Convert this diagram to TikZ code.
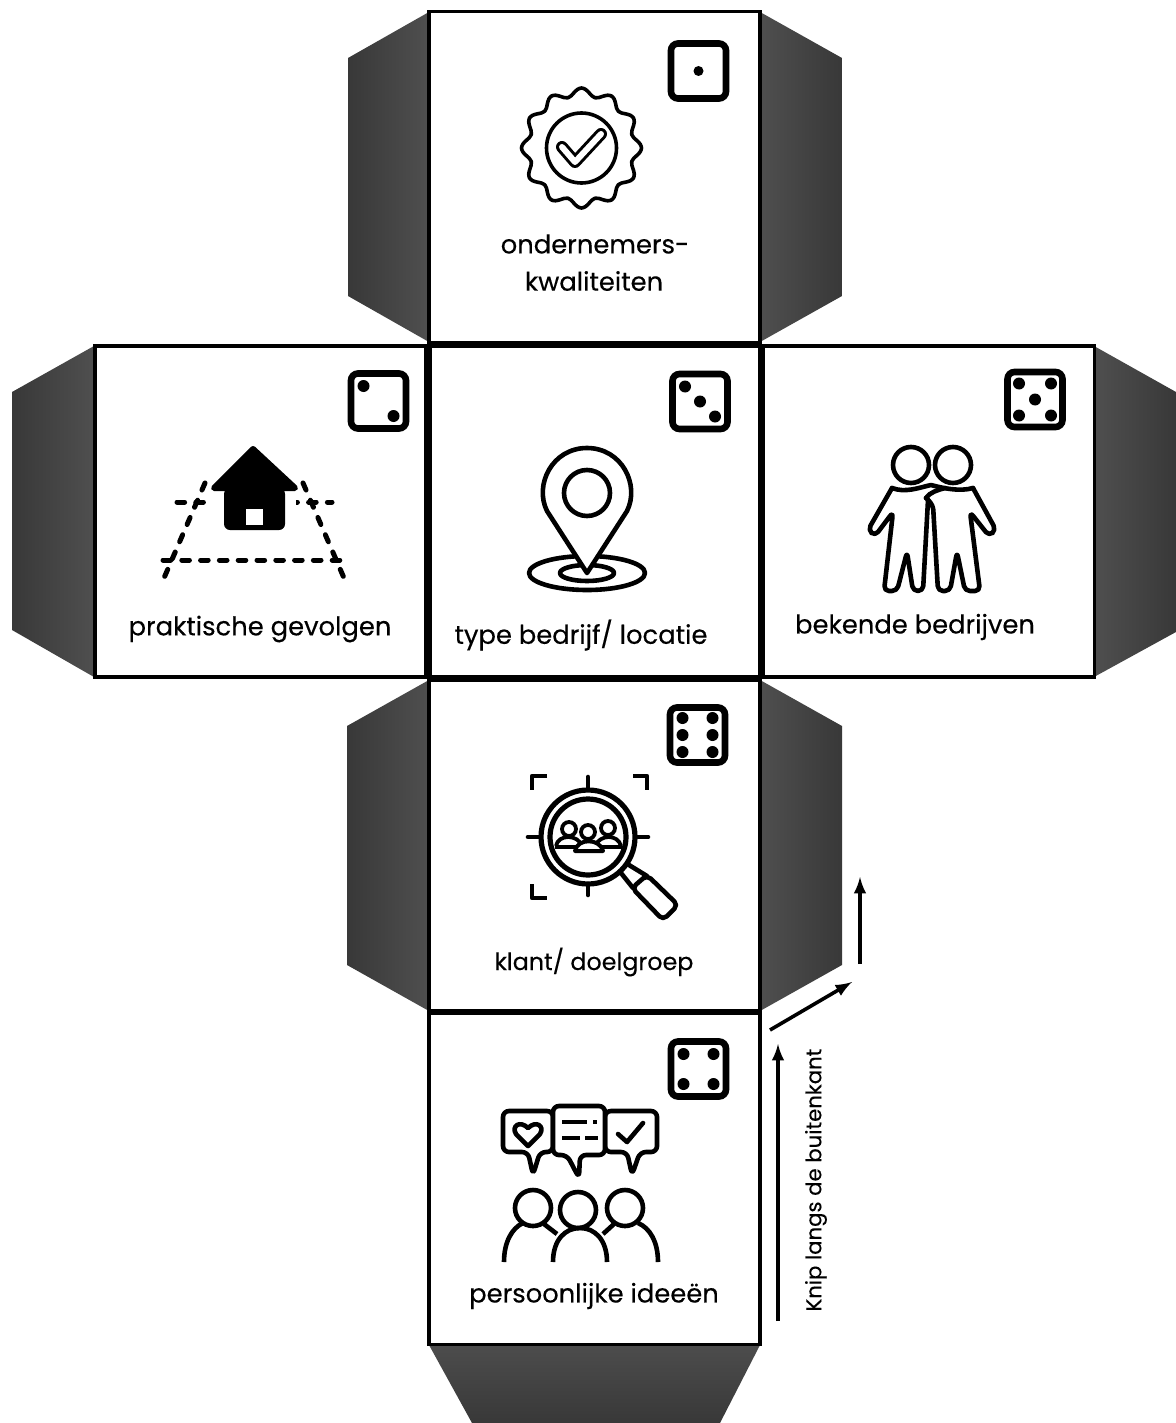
\documentclass[tikz,border=0pt]{standalone}
\usepackage{fontspec}
\setmainfont[FakeBold=0.3]{Poppins}
\tikzset{
  x=0.5pt, y=-0.5pt,
  facebox/.style={draw, fill=white, line width=1.6pt, minimum width=165.5pt, minimum height=165.5pt, inner sep=0pt},
  diebox/.style={draw, line width=3.3pt, rounded corners=3.5pt, minimum size=27.5pt, inner sep=0pt},
  pip/.style={fill=black},
  flapl/.style={left color=black!78, right color=black!69},
  flapr/.style={left color=black!69, right color=black!78},
  label/.style={inner sep=0pt, font=\fontsize{12.9}{16}\selectfont},
  icon/.style={line width=2.3pt, line join=round, line cap=round},
  thinicon/.style={line width=1.8pt, line join=round, line cap=round},
  cutline/.style={line width=2.5pt, line cap=round, dash pattern=on 3.8pt off 5.6pt},
  cutarrow/.style={->, >=latex, line width=1.8pt}
}
\begin{document}
\begin{tikzpicture}
  \useasboundingbox (0,0) rectangle (1176,1423);

  % flaps
  \shade[flapl] (429,12) -- (348,58) -- (348,296) -- (429,342) -- cycle;
  \shade[flapr] (760,12) -- (842,58) -- (842,296) -- (760,342) -- cycle;
  \shade[flapl] (94,346) -- (12,392) -- (12,630) -- (94,677) -- cycle;
  \shade[flapr] (1094,346) -- (1176,392) -- (1176,632) -- (1094,677) -- cycle;
  \shade[flapl] (429,680) -- (347,726) -- (347,965) -- (429,1011) -- cycle;
  \shade[flapr] (760,680) -- (842,726) -- (842,965) -- (760,1011) -- cycle;
  \shade[top color=black!70, bottom color=black!78] (429,1345) -- (760,1345) -- (720,1423) -- (472,1423) -- cycle;

  % faces
  \node[facebox] (top) at (594.5,177) {};
  \node[facebox] (left) at (260.5,511.5) {};
  \node[facebox] (right) at (929,511.5) {};
  \node[facebox] (below) at (594.5,845.5) {};
  \node[facebox] (bottom) at (594.5,1179) {};
  \node[facebox, line width=2.4pt] (mid) at (595,511.5) {};

  % dice
  \node[diebox] (dieone) at (698.5,71) {};
  \node[diebox] (dietwo) at (378.5,401) {};
  \node[diebox] (diethree) at (700,401.5) {};
  \node[diebox] (diefive) at (1035,399.5) {};
  \node[diebox] (diesix) at (697.5,735) {};
  \node[diebox] (diefour) at (698.5,1069) {};
  \fill[pip] (dieone) circle (5);
  \foreach \a/\b in {-15/15,15/-15}
    \fill[pip] ([xshift=\a*0.5pt,yshift=\b*0.5pt]dietwo.center) circle (6);
  \foreach \a/\b in {-15/15,0/0,15/-15}
    \fill[pip] ([xshift=\a*0.5pt,yshift=\b*0.5pt]diethree.center) circle (6);
  \foreach \a/\b in {-16/16,16/16,0/0,-16/-16,16/-16}
    \fill[pip] ([xshift=\a*0.5pt,yshift=\b*0.5pt]diefive.center) circle (6);
  \foreach \a/\b in {-15/17,15/17,-15/0,15/0,-15/-17,15/-17}
    \fill[pip] ([xshift=\a*0.5pt,yshift=\b*0.5pt]diesix.center) circle (6);
  \foreach \a/\b in {-15/15,15/15,-15/-15,15/-15}
    \fill[pip] ([xshift=\a*0.5pt,yshift=\b*0.5pt]diefour.center) circle (6);

  % badge
  \draw[thinicon] plot[smooth cycle, samples=96, domain=0:356.25]
    ({581.5+(56+4*cos(12*\x))*cos(\x)},{148+(56+4*cos(12*\x))*sin(\x)});
  \draw[thinicon] (581.5,148) circle (35);
  \draw[line width=6pt, line join=round, line cap=round] (562,147) -- (575,162) -- (601,134);
  \draw[line width=3pt, white, line join=round, line cap=round] (562,147) -- (575,162) -- (601,134);

  % house with plot lines
  \draw[cutline] (177,502) -- (332,502);
  \draw[cutline] (163,560) -- (347,560);
  \draw[cutline] (205,483) -- (164,578);
  \draw[cutline] (303,483) -- (344,578);
  \fill[white] (211,491) rectangle (296,535);
  \fill[line join=round] [draw, line width=3pt] (253,449) -- (295,488) -- (214,488) -- cycle;
  \fill[rounded corners=3pt] (224,488) rectangle (285,530);
  \fill[white] (246,509) rectangle (263,525);

  % pin
  \draw[icon] (587,573) ellipse (58 and 17);
  \draw[icon] (587,573) ellipse (27 and 8);
  \draw[icon, fill=white] (587,573) -- (547,511) .. controls (534,485) and (552,448) .. (587,448)
    .. controls (622,448) and (640,485) .. (627,511) -- cycle;
  \draw[icon] (587,493) circle (23);

  % friends
  \draw[icon] (911,465) circle (18) (953,465) circle (18);
  \draw[icon, rounded corners=2.5pt] (892,488) -- (868,530) -- (875,536) -- (893,512) -- (884,591)
    -- (897,591) -- (907,552) -- (913,591) -- (923,591) -- (928,500);
  \draw[icon, rounded corners=2.5pt] (973,488) -- (996,530) -- (989,536) -- (970,512) -- (980,591)
    -- (965,591) -- (957,552) -- (950,591) -- (938,591) -- (933,505) -- (926,498);
  \draw[icon] (892,488) .. controls (905,493) and (918,488) .. (931,485)
    .. controls (942,488) and (960,492) .. (973,488);
  \draw[icon] (926,498) .. controls (930,492) and (938,490) .. (945,488);

  % magnifier
  \draw[line width=2.6pt] (588,837) circle (47) (588,837) circle (38);
  \draw[icon] (588,777) -- (588,788) (528,837) -- (540,837) (638,837) -- (648,837) (588,884) -- (588,895);
  \draw[icon, line cap=butt] (547,776) -- (532,776) -- (532,790) (633,776) -- (647,776) -- (647,790)
    (532,884) -- (532,898) -- (547,898);
  \draw[icon] (621,873) -- (633,888) (629,865) -- (647,876);
  \draw[icon, fill=white, rounded corners=2.5pt] (632,888) -- (647,875) -- (678,905) -- (663,920) -- cycle;
  \draw[line width=1.9pt] (569,829) circle (7) (608,828) circle (7);
  \draw[line width=1.9pt] (556,846) .. controls (558,834) and (578,834) .. (582,846)
    (595,846) .. controls (600,834) and (618,834) .. (621,846);
  \draw[line width=2.2pt] (555,847) -- (622,847);
  \draw[line width=1.9pt, fill=white] (588,832) circle (7);
  \draw[line width=2pt, fill=white, line join=round] (575,851) .. controls (577,838) and (600,838) .. (603,851) -- cycle;

  % speech bubbles and people
  \draw[icon, rounded corners=3pt] (528,1152) -- (503,1152) -- (503,1111) -- (553,1111) -- (553,1152)
    -- (540,1152) -- (533,1175) -- cycle;
  \draw[icon, rounded corners=3pt] (627,1152) -- (605,1152) -- (605,1111) -- (657,1111) -- (657,1152)
    -- (640,1152) -- (632,1175) -- cycle;
  \draw[icon, fill=white, rounded corners=3pt] (553,1106) -- (605,1106) -- (605,1155) -- (580,1155)
    -- (579,1178) -- (567,1155) -- (553,1155) -- cycle;
  \draw[icon] (528,1146) -- (516,1134) .. controls (511,1126) and (520,1120) .. (528,1128)
    .. controls (536,1120) and (545,1126) .. (540,1134) -- cycle;
  \draw[icon] (618,1134) -- (627,1142) -- (643,1123);
  \draw[icon, line cap=butt] (562,1122) -- (587,1122) (593,1122) -- (597,1122)
    (562,1138) -- (580,1138) (585,1138) -- (598,1138);
  \draw[icon] (533,1208) circle (18) (578,1210) circle (18) (625,1208) circle (18);
  \draw[icon, line cap=butt] (553,1262) .. controls (553,1240) and (565,1228) .. (580,1228)
    .. controls (595,1228) and (607,1240) .. (607,1262);
  \draw[icon, line cap=butt] (504,1262) .. controls (504,1242) and (512,1228) .. (523,1223)
    (638,1223) .. controls (650,1228) and (658,1242) .. (658,1262);
  \draw[icon, line cap=butt] (544,1224) -- (557,1234) (614,1224) -- (603,1234);

  % labels
  \node[label] (quality) at (595,244) {ondernemers-};
  \node[label] (quality2) at (594,281) {kwaliteiten};
  \node[label] (practical) at (260,629) {praktische gevolgen};
  \node[label] (company) at (581,635) {type bedrijf/ locatie};
  \node[label] (known) at (915,627) {bekende bedrijven};
  \node[label, font=\fontsize{11.9}{14}\selectfont] (customer) at (594,962) {klant/ doelgroep};
  \node[label] (ideas) at (594,1296) {persoonlijke ideeën};
  \node[label, font=\fontsize{10.6}{12}\selectfont, rotate=90] (cut) at (816,1180) {Knip langs de buitenkant};

  % cut arrows
  \coordinate (c1) at (778,1321);
  \coordinate (c2) at (778,1044);
  \coordinate (c3) at (770,1030);
  \coordinate (c4) at (852,982);
  \coordinate (c5) at (860,964);
  \coordinate (c6) at (860,877);
  \draw[cutarrow] (c1) -- (c2);
  \draw[cutarrow] (c3) -- (c4);
  \draw[cutarrow] (c5) -- (c6);
\end{tikzpicture}
\end{document}
